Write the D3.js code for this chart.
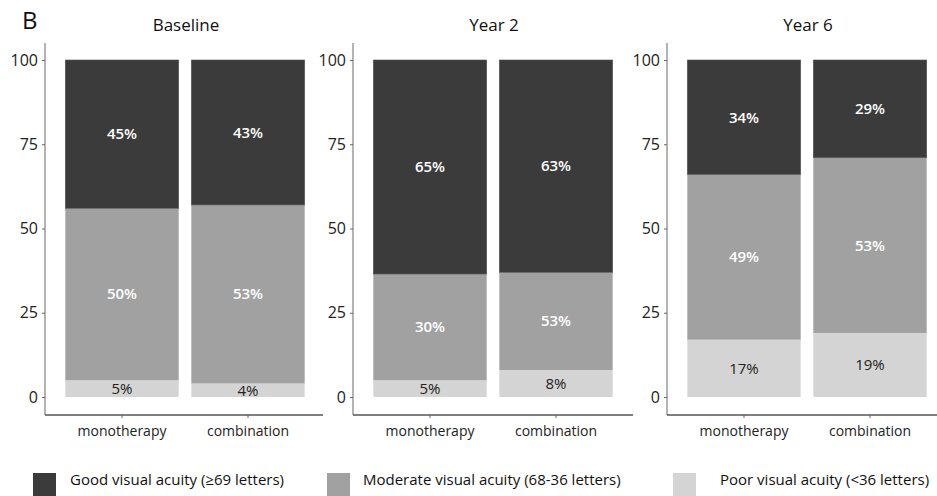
<!DOCTYPE html>
<html>
<head>
<meta charset="utf-8">
<script src="https://cdn.jsdelivr.net/npm/d3@7"></script>
<style>
  body { margin: 0; background: #fff; }
  svg { display: block; font-family: 'Open Sans', sans-serif; }
</style>
</head>
<body>
<svg id="chart" width="937" height="496"></svg>
<script>
// data
const panels = ['Baseline', 'Year 2', 'Year 6'];
const groups = ['monotherapy', 'combination'];
const levels = ['poor', 'moderate', 'good'];
const legendLabels = ['Good visual acuity (\u226569 letters)', 'Moderate visual acuity (68-36 letters)', 'Poor visual acuity (<36 letters)'];

// segment sizes (%) per panel, [monotherapy, combination]
const poorValues = [[5, 4], [5, 8], [17, 19]];
const moderateValues = [[51, 53], [31.5, 29], [49, 52]];
const goodValues = [[44, 43], [63.5, 63], [34, 29]];

// printed labels
const poorLabels = [['5%', '4%'], ['5%', '8%'], ['17%', '19%']];
const moderateLabels = [['50%', '53%'], ['30%', '53%'], ['49%', '53%']];
const goodLabels = [['45%', '43%'], ['65%', '63%'], ['34%', '29%']];

const yTicks = [0, 25, 50, 75, 100];

const colors = { good: '#3b3b3b', moderate: '#a1a1a1', poor: '#d4d4d4' };
const textColors = { good: '#ffffff', moderate: '#ffffff', poor: '#222222' };

const svg = d3.select('#chart');

const axisXs = [45, 353, 667];
const axisEnds = [323, 633, 937];
const axisY = 415;

const y = d3.scaleLinear().domain([0, 100]).range([397, 60]);

svg.append('text')
	.attr('x', 22)
	.attr('y', 29)
	.attr('font-size', '24px')
	.attr('fill', '#111')
	.text('B');

panels.forEach((title, p) => {
	const ax = axisXs[p];
	const g = svg.append('g');

	const x = d3.scaleBand()
		.domain(groups)
		.range([ax + 14, ax + 266])
		.paddingInner(0.1)
		.paddingOuter(0.05);

	const stacks = groups.map((grp, i) => {
		const vals = { poor: poorValues[p][i], moderate: moderateValues[p][i], good: goodValues[p][i] };
		const labs = { poor: poorLabels[p][i], moderate: moderateLabels[p][i], good: goodLabels[p][i] };
		let base = 0;
		return levels.map(lv => {
			const seg = { group: grp, level: lv, y0: base, y1: base + vals[lv], label: labs[lv] };
			base += vals[lv];
			return seg;
		});
	}).flat();

	g.selectAll('rect.seg')
		.data(stacks)
		.enter().append('rect')
		.attr('class', 'seg')
		.attr('x', d => x(d.group))
		.attr('width', x.bandwidth())
		.attr('y', d => y(d.y1))
		.attr('height', d => y(d.y0) - y(d.y1))
		.attr('fill', d => colors[d.level])
		.attr('stroke', d => d.level === 'good' ? '#555' : 'none')
		.attr('stroke-width', 0.6);

	g.selectAll('text.val')
		.data(stacks)
		.enter().append('text')
		.attr('class', 'val')
		.attr('x', d => x(d.group) + x.bandwidth() / 2)
		.attr('y', d => y((d.y0 + d.y1) / 2))
		.attr('dy', '0.35em')
		.attr('text-anchor', 'middle')
		.attr('font-size', '15px')
		.attr('font-weight', d => d.level === 'poor' ? 400 : 600)
		.attr('fill', d => textColors[d.level])
		.text(d => d.label);

	// axis lines
	g.append('line')
		.attr('x1', ax).attr('x2', ax)
		.attr('y1', 43).attr('y2', axisY)
		.attr('stroke', '#8a8a8a')
		.attr('stroke-width', 1.3);
	g.append('line')
		.attr('x1', ax).attr('x2', axisEnds[p])
		.attr('y1', axisY).attr('y2', axisY)
		.attr('stroke', '#555')
		.attr('stroke-width', 1.3);

	const yAxis = g.append('g')
		.attr('transform', `translate(${ax},0)`)
		.call(d3.axisLeft(y).tickValues(yTicks).tickSize(3).tickPadding(4));
	yAxis.select('.domain').remove();
	yAxis.selectAll('line').attr('stroke', '#666');
	yAxis.selectAll('text')
		.attr('font-size', '16px')
		.attr('font-family', "'Open Sans', sans-serif")
		.attr('fill', '#222');

	const xAxis = g.append('g')
		.attr('transform', `translate(0,${axisY})`)
		.call(d3.axisBottom(x).tickSize(3).tickPadding(8));
	xAxis.select('.domain').remove();
	xAxis.selectAll('line').attr('stroke', '#666');
	xAxis.selectAll('text')
		.attr('font-size', '14px')
		.attr('font-family', "'Open Sans', sans-serif")
		.attr('fill', '#222');

	g.append('text')
		.attr('x', ax + 141)
		.attr('y', 25)
		.attr('dy', '0.35em')
		.attr('text-anchor', 'middle')
		.attr('font-size', '17px')
		.attr('fill', '#111')
		.text(title);
});

// legend
const legendSquareX = [33, 327, 673];
const legendTextX = [70, 363, 720];
const legendLevels = ['good', 'moderate', 'poor'];

const legend = svg.append('g')
	.selectAll('g')
	.data(legendLevels)
	.enter().append('g');

legend.append('rect')
	.attr('x', (d, i) => legendSquareX[i])
	.attr('y', 473)
	.attr('width', 23)
	.attr('height', 23)
	.attr('fill', d => colors[d]);

legend.append('text')
	.attr('x', (d, i) => legendTextX[i])
	.attr('y', 480)
	.attr('dy', '0.35em')
	.attr('font-size', '15px')
	.attr('fill', '#111')
	.text((d, i) => legendLabels[i]);
</script>
</body>
</html>
